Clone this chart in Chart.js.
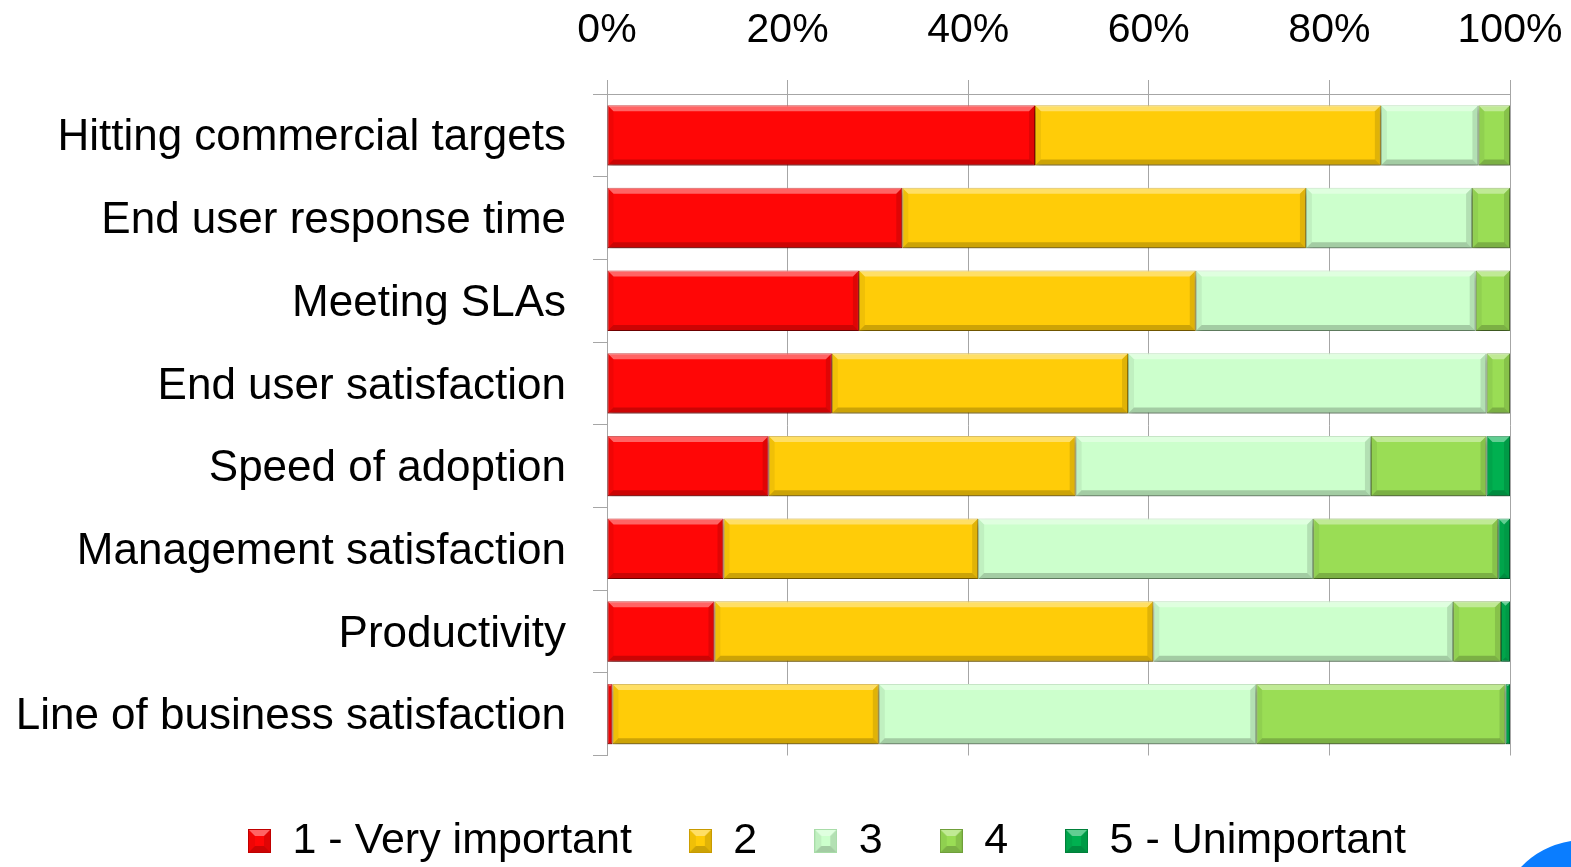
<!DOCTYPE html>
<html>
<head>
<meta charset="utf-8">
<script src="https://cdn.jsdelivr.net/npm/chart.js@4"></script>
<style>
  html, body { margin: 0; padding: 0; background: #fff; }
  #wrap { width: 1571px; height: 867px; position: relative; }
</style>
</head>
<body>
<div id="wrap"><canvas id="chart-bar"></canvas></div>
<script>
const categories = [
  "Hitting commercial targets",
  "End user response time",
  "Meeting SLAs",
  "End user satisfaction",
  "Speed of adoption",
  "Management satisfaction",
  "Productivity",
  "Line of business satisfaction",
];
const seriesNames = ["1 - Very important", "2", "3", "4", "5 - Unimportant"];
const veryImportant = [47.4, 32.7, 27.9, 24.9, 17.9, 12.9, 11.9, 0.6];
const rating2 = [38.3, 44.7, 37.3, 32.8, 34.0, 28.2, 48.6, 29.5];
const rating3 = [10.8, 18.4, 31.0, 39.7, 32.7, 37.1, 33.2, 41.8];
const rating4 = [3.5, 4.2, 3.8, 2.6, 12.8, 20.5, 5.3, 27.6];
const unimportant = [0, 0, 0, 0, 2.6, 1.3, 1.0, 0.5];
const tickValues = [0, 20, 40, 60, 80, 100];

const fills = ["#ff0606", "#ffcc08", "#ccffcc", "#9add55", "#00b050"];
const edges = ["#c00000", "#c89a00", "#a8dca8", "#6f9f3a", "#00803a"];
const gridGray = "#a6a6a6";
const font = "'Liberation Sans', Arial, sans-serif";

// draws the bevelled look excel gives the shapes
function bevel(ctx, left, top, right, bottom, b) {
  const quad = (pts, col) => {
    ctx.beginPath();
    ctx.moveTo(pts[0][0], pts[0][1]);
    for (let k = 1; k < pts.length; k++) ctx.lineTo(pts[k][0], pts[k][1]);
    ctx.closePath();
    ctx.fillStyle = col;
    ctx.fill();
  };
  quad([[left, top], [right, top], [right - b, top + b], [left + b, top + b]], "rgba(255, 255, 255, 0.38)");
  quad([[left, bottom], [right, bottom], [right - b, bottom - b], [left + b, bottom - b]], "rgba(0, 0, 0, 0.2)");
  quad([[left, top], [left + b, top + b], [left + b, bottom - b], [left, bottom]], "rgba(0, 0, 0, 0.06)");
  quad([[right, top], [right - b, top + b], [right - b, bottom - b], [right, bottom]], "rgba(0, 0, 0, 0.12)");
}

// little bevelled squares for the legend
const legendIcons = fills.map((c, i) => {
  const cv = document.createElement("canvas");
  cv.width = 23;
  cv.height = 24;
  const g = cv.getContext("2d");
  g.fillStyle = c;
  g.fillRect(0, 0, 23, 24);
  bevel(g, 0, 0, 23, 24, 7);
  g.strokeStyle = edges[i];
  g.lineWidth = 1;
  g.strokeRect(0.5, 0.5, 22, 23);
  return cv;
});

const bevelPlugin = {
  id: "bevel",
  afterLayout(chart) {
    const lg = chart.legend;
    if (!lg) return;
    const w = lg.right - lg.left;
    const h = lg.bottom - lg.top;
    lg.left = 191;
    lg.right = 191 + w;
    lg.top = 761;
    lg.bottom = 761 + h;
  },
  beforeDatasetsDraw(chart) {
    const ctx = chart.ctx;
    ctx.save();
    ctx.shadowColor = "rgba(0, 0, 0, 0.35)";
    ctx.shadowBlur = 6;
    ctx.shadowOffsetX = 1;
    ctx.shadowOffsetY = 4;
  },
  afterDatasetsDraw(chart) {
    const ctx = chart.ctx;
    ctx.restore();
    ctx.save();
    chart.data.datasets.forEach((ds, i) => {
      chart.getDatasetMeta(i).data.forEach((el) => {
        const left = Math.min(el.base, el.x);
        const right = Math.max(el.base, el.x);
        if (right - left < 1) return;
        bevel(ctx, left, el.y - el.height / 2, right, el.y + el.height / 2, Math.min(6, (right - left) / 2));
      });
    });
    ctx.restore();
  },
  afterDraw(chart) {
    // blue corner of the slide
    const ctx = chart.ctx;
    ctx.save();
    ctx.beginPath();
    ctx.moveTo(1521, 867);
    ctx.quadraticCurveTo(1541, 846, 1571, 841);
    ctx.lineTo(1571, 867);
    ctx.closePath();
    ctx.fillStyle = "#0a7dff";
    ctx.fill();
    ctx.restore();
  },
};

const seriesData = [veryImportant, rating2, rating3, rating4, unimportant];

new Chart(document.getElementById("chart-bar").getContext("2d"), {
  type: "bar",
  data: {
    labels: categories,
    datasets: seriesData.map((d, i) => ({
      label: seriesNames[i],
      data: d,
      backgroundColor: fills[i],
      borderColor: edges[i],
      borderWidth: 1,
      borderSkipped: false,
      categoryPercentage: 1,
      barPercentage: 0.73,
    })),
  },
  plugins: [bevelPlugin],
  options: {
    indexAxis: "y",
    responsive: true,
    maintainAspectRatio: false,
    animation: false,
    layout: {
      padding: { top: 5, left: 0, right: 61, bottom: 0 },
    },
    plugins: {
      tooltip: { enabled: false },
      legend: {
        position: "bottom",
        align: "start",
        title: { display: true, text: "", font: { size: 1.25 }, padding: 0 },
        labels: {
          usePointStyle: true,
          boxWidth: 23,
          boxHeight: 24,
          padding: 57,
          color: "#000",
          font: { family: font, size: 43 },
          generateLabels: (chart) =>
            Chart.defaults.plugins.legend.labels.generateLabels(chart).map((it, i) => ({
              ...it,
              pointStyle: legendIcons[i],
            })),
        },
      },
    },
    scales: {
      x: {
        position: "top",
        stacked: true,
        min: 0,
        max: 100,
        afterBuildTicks: (scale) => {
          scale.ticks = tickValues.map((v) => ({ value: v }));
        },
        afterFit: (scale) => {
          scale.height = 89;
          scale.paddingLeft = 0;
          scale.paddingRight = 0;
        },
        grid: {
          color: gridGray,
          tickColor: gridGray,
          tickLength: 14,
        },
        border: { display: true, color: gridGray },
        ticks: {
          padding: 25,
          color: "#000",
          font: { family: font, size: 41 },
          callback: (v) => v + "%",
        },
      },
      y: {
        stacked: true,
        afterFit: (scale) => {
          scale.width = 607;
          scale.paddingTop = 0;
          scale.paddingBottom = 0;
        },
        grid: {
          offset: true,
          color: (ctx) => (ctx.index === categories.length ? gridGray : "transparent"),
          tickColor: gridGray,
          tickLength: 14,
        },
        border: { display: true, color: gridGray },
        ticks: {
          padding: 27,
          labelOffset: 3,
          color: "#000",
          font: { family: font, size: 44 },
        },
      },
    },
  },
});
</script>
</body>
</html>
